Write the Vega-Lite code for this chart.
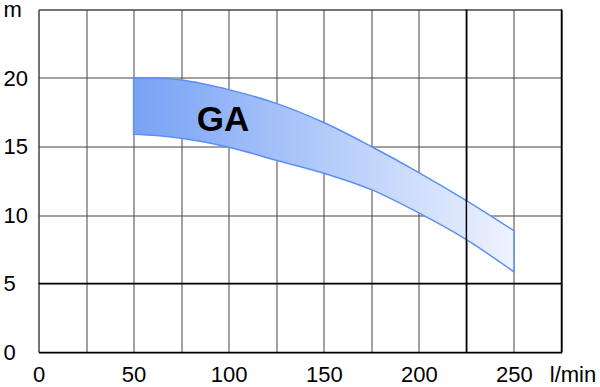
{
  "$schema": "https://vega.github.io/schema/vega-lite/v6.json",
  "autosize": "none",
  "width": 523,
  "height": 342.5,
  "padding": {"left": 38.5, "top": 9.5, "right": 38.5, "bottom": 35},
  "background": "white",
  "config": {
    "view": {"stroke": "#444", "strokeWidth": 1},
    "font": "Liberation Sans"
  },
  "datasets": {
    "band": [
      {"q": 50, "hi": 20.0, "lo": 15.9},
      {"q": 62, "hi": 20.0, "lo": 15.8},
      {"q": 75, "hi": 19.85, "lo": 15.6},
      {"q": 100, "hi": 19.15, "lo": 14.95},
      {"q": 125, "hi": 18.15, "lo": 14.0},
      {"q": 150, "hi": 16.75, "lo": 13.05},
      {"q": 175, "hi": 15.0, "lo": 11.85},
      {"q": 200, "hi": 13.1, "lo": 10.15},
      {"q": 225, "hi": 11.05, "lo": 8.2},
      {"q": 250, "hi": 8.85, "lo": 5.85}
    ],
    "vrules": [{"x": 225}, {"x": 275}],
    "hrules": [{"y": 5}],
    "labels": [{"q": 97, "h": 16.9, "text": "GA"}]
  },
  "layer": [
    {
      "data": {"name": "band"},
      "mark": {
        "type": "area",
        "interpolate": "monotone",
        "stroke": "#5b8ff5",
        "strokeWidth": 1.5,
        "color": {
          "gradient": "linear",
          "x1": 0, "y1": 0, "x2": 1, "y2": 0,
          "stops": [
            {"offset": 0, "color": "#78a2f5"},
            {"offset": 1, "color": "#eef3fe"}
          ]
        }
      },
      "encoding": {
        "x": {
          "field": "q", "type": "quantitative",
          "scale": {"domain": [0, 275], "nice": false, "zero": false},
          "axis": {
            "title": null,
            "values": [0, 25, 50, 75, 100, 125, 150, 175, 200, 225, 250, 275],
            "labelExpr": "datum.value == 275 ? 'l/min' : (datum.value % 50 == 0 ? datum.label : '')",
            "labelOffset": {"condition": {"test": "datum.value == 275", "value": 11}, "value": 0},
            "labelFontSize": 22,
            "labelColor": "black",
            "labelPadding": 12,
            "labelFlush": false,
            "labelOverlap": false,
            "labelBound": false,
            "ticks": false,
            "tickSize": 0,
            "domainColor": "black",
            "domainWidth": 1.5,
            "grid": true,
            "gridColor": "#444",
            "gridWidth": 1,
            "gridOpacity": 1
          }
        },
        "y": {
          "field": "hi", "type": "quantitative",
          "scale": {"domain": [0, 25], "nice": false, "zero": false},
          "axis": {
            "title": null,
            "values": [0, 5, 10, 15, 20, 25],
            "labelExpr": "datum.value == 25 ? 'm' : datum.label",
            "labelFontSize": 22,
            "labelColor": "black",
            "labelAlign": "left",
            "labelBaseline": "middle",
            "labelPadding": 35.5,
            "labelFlush": false,
            "labelOverlap": false,
            "labelBound": false,
            "ticks": false,
            "tickSize": 0,
            "domain": false,
            "grid": true,
            "gridColor": "#444",
            "gridWidth": 1,
            "gridOpacity": 1
          }
        },
        "y2": {"field": "lo"}
      }
    },
    {
      "data": {"name": "vrules"},
      "mark": {"type": "rule", "color": "black", "strokeWidth": 1.5},
      "encoding": {"x": {"field": "x", "type": "quantitative"}}
    },
    {
      "data": {"name": "hrules"},
      "mark": {"type": "rule", "color": "black", "strokeWidth": 1.5},
      "encoding": {"y": {"field": "y", "type": "quantitative"}}
    },
    {
      "data": {"name": "labels"},
      "mark": {"type": "text", "fontSize": 35, "fontWeight": "bold", "color": "black", "font": "Liberation Sans"},
      "encoding": {
        "x": {"field": "q", "type": "quantitative"},
        "y": {"field": "h", "type": "quantitative"},
        "text": {"field": "text"}
      }
    }
  ]
}
